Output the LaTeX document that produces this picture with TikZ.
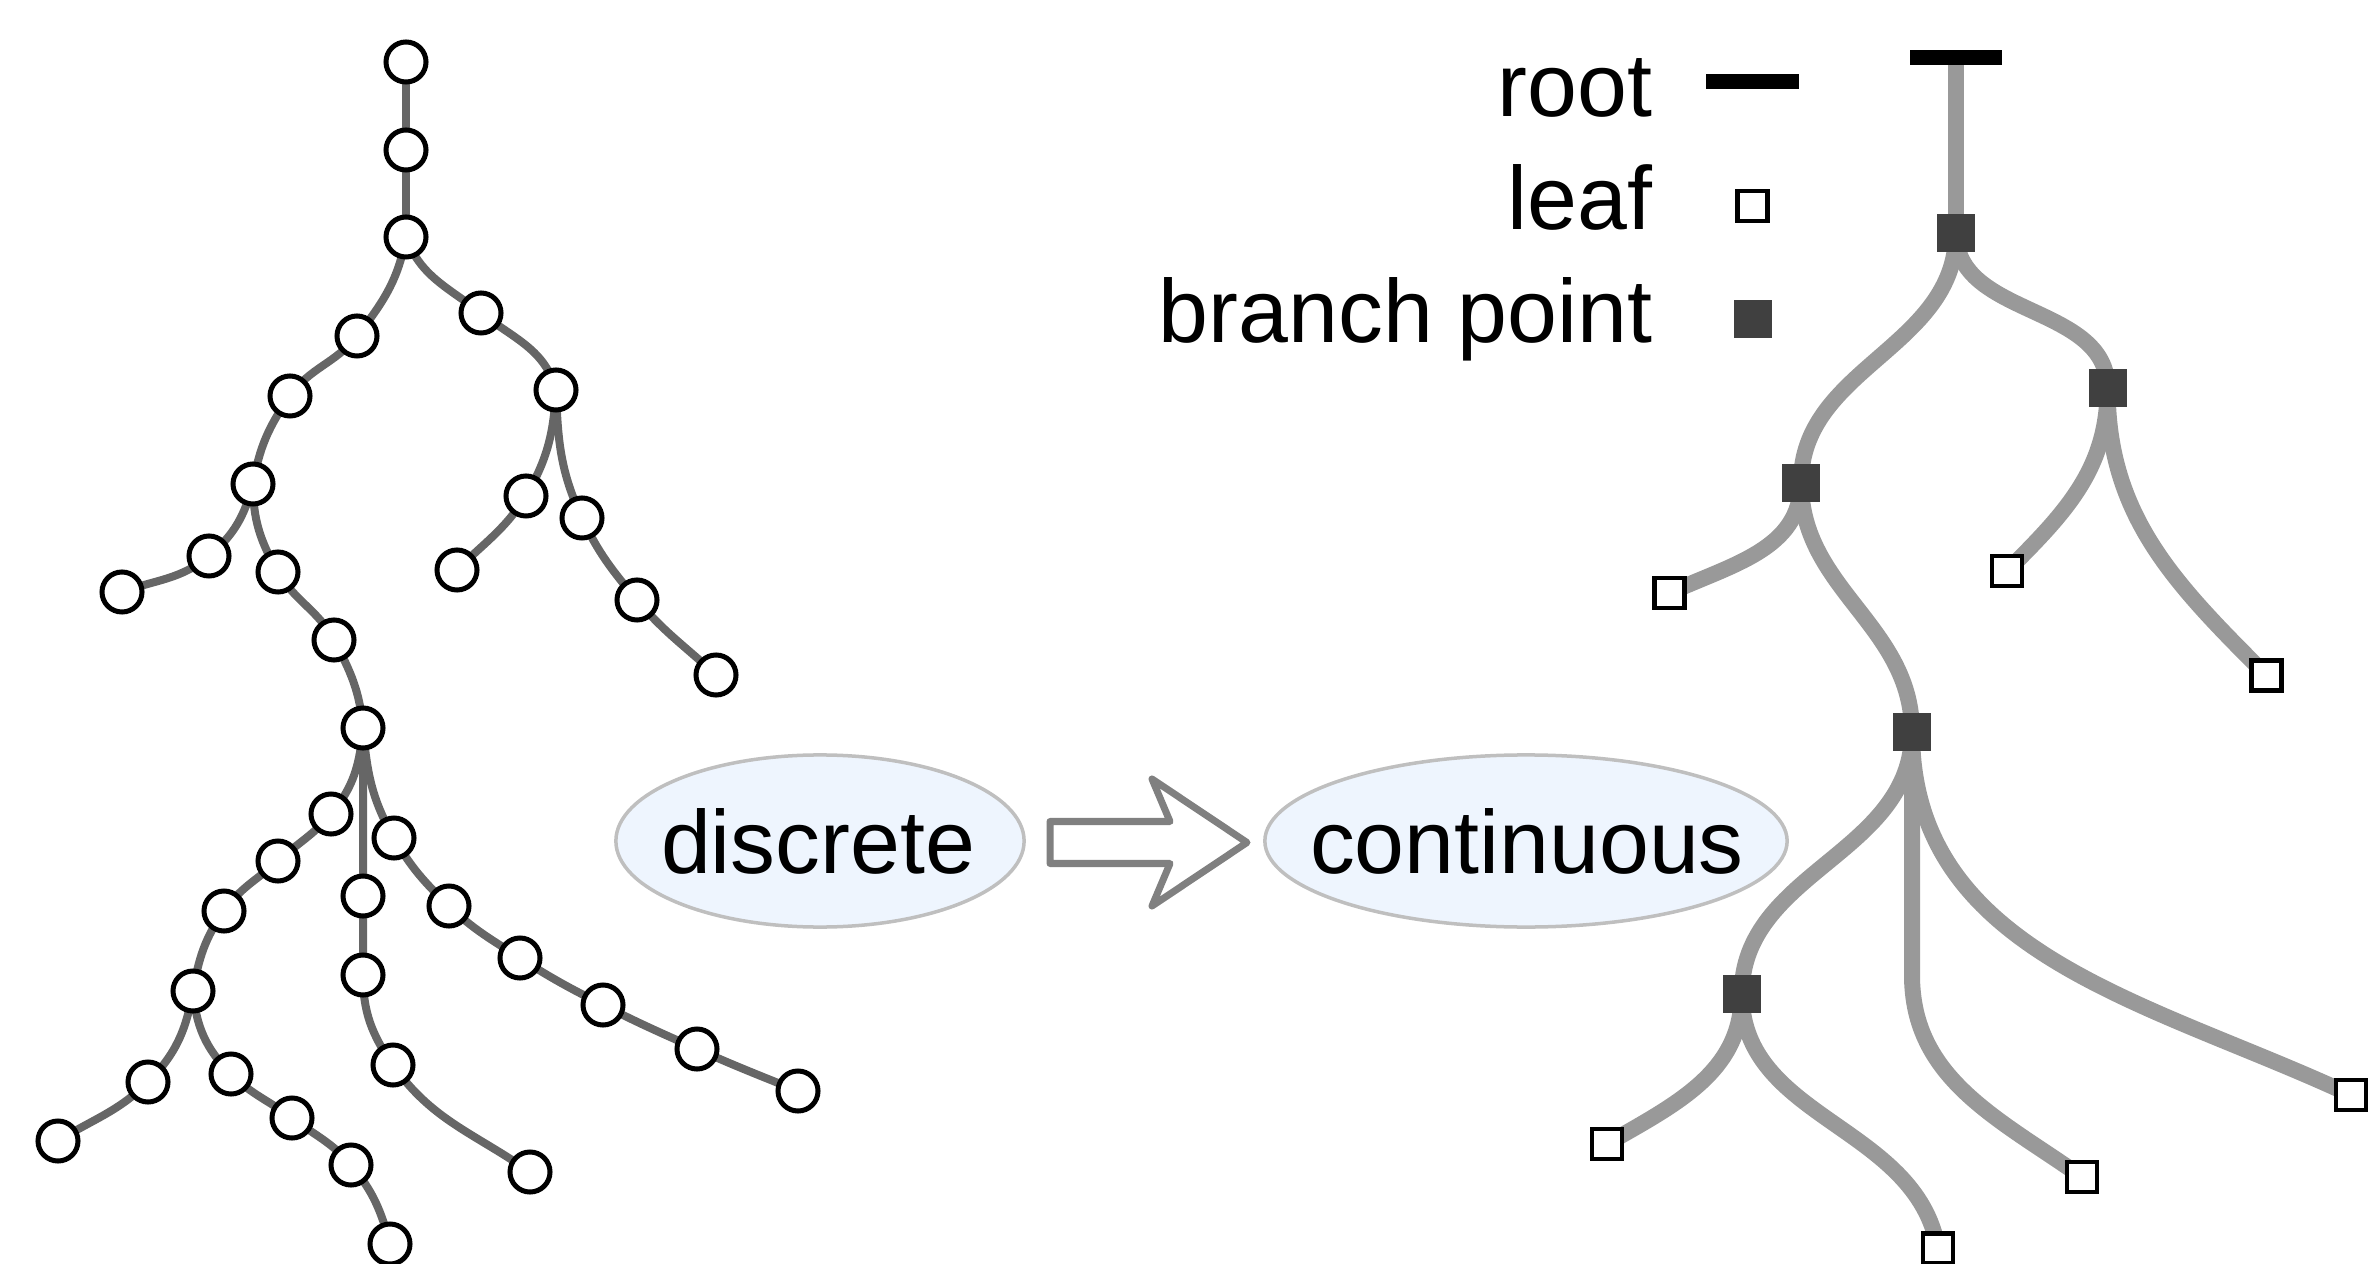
\documentclass[tikz,border=0pt]{standalone}
\usepackage{fontspec}
\setmainfont{Liberation Sans}
\usetikzlibrary{shapes.geometric}
\pgfdeclarelayer{bg}
\pgfsetlayers{bg,main}
\definecolor{ledge}{HTML}{666666}
\definecolor{redge}{HTML}{999999}
\definecolor{bpt}{HTML}{404040}
\definecolor{ellfill}{HTML}{EEF5FE}
\definecolor{ellline}{HTML}{BFBFBF}
\definecolor{arrline}{HTML}{808080}
\begin{document}
\begin{tikzpicture}[x=0.01cm,y=0.01cm,
  dot/.style={circle,draw=black,fill=white,line width=0.05cm,minimum size=0.4cm,inner sep=0pt},
  leafsq/.style={rectangle,draw=black,fill=white,line width=0.045cm,minimum size=0.3cm,inner sep=0pt},
  branchsq/.style={rectangle,fill=bpt,minimum size=0.38cm,inner sep=0pt},
  rootbar/.style={rectangle,fill=black,minimum width=0.92cm,minimum height=0.15cm,inner sep=0pt},
  ledgestyle/.style={draw=ledge,line width=0.08cm},
  redgestyle/.style={draw=redge,line width=0.16cm},
  txt/.style={font=\fontsize{25.5pt}{30pt}\selectfont,inner sep=0pt},
  bubble/.style={ellipse,draw=ellline,fill=ellfill,line width=0.035cm,inner sep=0pt,minimum height=1.72cm},
  blockarrow/.style={draw=arrline,fill=white,line width=0.07cm,line join=round}
]
\useasboundingbox (0,0) rectangle (2369,-1264);

% ---------------- left (discrete) tree ----------------
\node[dot] (n1) at (406,-62) {};
\node[dot] (n2) at (406,-150) {};
\node[dot] (n3) at (406,-237) {};
\node[dot] (n4) at (357,-336) {};
\node[dot] (n5) at (290,-396) {};
\node[dot] (n6) at (253,-484) {};
\node[dot] (n7) at (209,-556) {};
\node[dot] (n8) at (122,-592) {};
\node[dot] (n9) at (278,-572) {};
\node[dot] (n10) at (334,-640) {};
\node[dot] (n11) at (363,-728) {};
\node[dot] (n12) at (481,-313) {};
\node[dot] (n13) at (556,-390) {};
\node[dot] (n14) at (526,-496) {};
\node[dot] (n15) at (457,-570) {};
\node[dot] (n16) at (582,-518) {};
\node[dot] (n17) at (637,-600) {};
\node[dot] (n18) at (716,-675) {};
\node[dot] (n19) at (331,-814) {};
\node[dot] (n20) at (278,-861) {};
\node[dot] (n21) at (224,-911) {};
\node[dot] (n22) at (193,-991) {};
\node[dot] (n23) at (148,-1082) {};
\node[dot] (n24) at (58,-1141) {};
\node[dot] (n25) at (231,-1074) {};
\node[dot] (n26) at (292,-1118) {};
\node[dot] (n27) at (351,-1165) {};
\node[dot] (n28) at (390,-1244) {};
\node[dot] (n29) at (363,-896) {};
\node[dot] (n30) at (363,-975) {};
\node[dot] (n31) at (393,-1065) {};
\node[dot] (n32) at (530,-1172) {};
\node[dot] (n33) at (394,-838) {};
\node[dot] (n34) at (449,-906) {};
\node[dot] (n35) at (520,-958) {};
\node[dot] (n36) at (603,-1005) {};
\node[dot] (n37) at (697,-1049) {};
\node[dot] (n38) at (798,-1091) {};

\begin{pgfonlayer}{bg}
\draw[ledgestyle] (n1.center) -- (n2.center) -- (n3.center);
\draw[ledgestyle] (n3.center) to[out=-100,in=52] (n4.center) to[out=-128,in=55] (n5.center) to[out=-125,in=80] (n6.center);
\draw[ledgestyle] (n6.center) to[out=-105,in=40] (n7.center) to[out=-140,in=20] (n8.center);
\draw[ledgestyle] (n6.center) to[out=-90,in=120] (n9.center) to[out=-60,in=118] (n10.center) to[out=-62,in=95] (n11.center);
\draw[ledgestyle] (n3.center) to[out=-70,in=142] (n12.center) to[out=-38,in=105] (n13.center);
\draw[ledgestyle] (n13.center) to[out=-93,in=60] (n14.center) to[out=-122,in=45] (n15.center);
\draw[ledgestyle] (n13.center) to[out=-88,in=115] (n16.center) to[out=-65,in=130] (n17.center) to[out=-50,in=137] (n18.center);
\draw[ledgestyle] (n11.center) to[out=-95,in=50] (n19.center) to[out=-130,in=42] (n20.center) to[out=-138,in=55] (n21.center) to[out=-125,in=80] (n22.center);
\draw[ledgestyle] (n22.center) to[out=-100,in=45] (n23.center) to[out=-135,in=32] (n24.center);
\draw[ledgestyle] (n22.center) to[out=-85,in=135] (n25.center) to[out=-45,in=143] (n26.center) to[out=-37,in=130] (n27.center) to[out=-50,in=105] (n28.center);
\draw[ledgestyle] (n11.center) -- (n29.center) -- (n30.center) to[out=-90,in=125] (n31.center) to[out=-55,in=145] (n32.center);
\draw[ledgestyle] (n11.center) to[out=-85,in=120] (n33.center) to[out=-60,in=136] (n34.center) to[out=-44,in=147] (n35.center) to[out=-33,in=153] (n36.center) to[out=-27,in=156] (n37.center) to[out=-24,in=158] (n38.center);
\end{pgfonlayer}

% ---------------- middle: discrete => continuous ----------------
\node[bubble,minimum width=4.08cm] (disc) at (820,-841) {};
\node[txt,anchor=base] (disctext) at (818,-873) {discrete};
\node[bubble,minimum width=5.22cm] (cont) at (1526,-841) {};
\node[txt,anchor=base] (conttext) at (1527,-873) {continuous};
\draw[blockarrow] (1050,-821.5) -- (1170,-821.5) -- (1152,-779) -- (1247,-842.5)
  -- (1152,-906) -- (1170,-863.5) -- (1050,-863.5) -- cycle;

% ---------------- legend ----------------
\node[txt,anchor=base east] (lroot) at (1653,-117) {root};
\node[txt,anchor=base east] (lleaf) at (1653,-230) {leaf};
\node[txt,anchor=base east] (lbranch) at (1653,-343) {branch point};
\node[rootbar] (mroot) at (1752.5,-81.7) {};
\node[leafsq] (mleaf) at (1752.5,-206) {};
\node[branchsq] (mbranch) at (1753,-319) {};

% ---------------- right (continuous) tree ----------------
\node[rootbar] (rt) at (1956,-57.5) {};
\node[branchsq] (B1) at (1956,-233) {};
\node[branchsq] (B2) at (2107.6,-388.3) {};
\node[branchsq] (B3) at (1801,-482.6) {};
\node[branchsq] (B4) at (1912,-732) {};
\node[branchsq] (B5) at (1741.7,-994) {};
\node[leafsq] (L1) at (1669.6,-593) {};
\node[leafsq] (L2) at (2007,-571) {};
\node[leafsq] (L3) at (2266.6,-675.5) {};
\node[leafsq] (L4) at (1607,-1143.8) {};
\node[leafsq] (L5) at (1938,-1248.5) {};
\node[leafsq] (L6) at (2082,-1177) {};
\node[leafsq] (L7) at (2351,-1095) {};
\coordinate (L6bend) at (1912,-975);

\begin{pgfonlayer}{bg}
\draw[redgestyle] (rt.center) -- (B1.center);
\draw[redgestyle] (B1.center) to[out=-90,in=90] (B3.center);
\draw[redgestyle] (B1.center) to[out=-90,in=90] (B2.center);
\draw[redgestyle] (B3.center) to[out=-90,in=25] (L1.center);
\draw[redgestyle] (B3.center) to[out=-90,in=90] (B4.center);
\draw[redgestyle] (B2.center) to[out=-90,in=45] (L2.center);
\draw[redgestyle] (B2.center) to[out=-90,in=135] (L3.center);
\draw[redgestyle] (B4.center) to[out=-90,in=90] (B5.center);
\draw[redgestyle] (B4.center) -- (L6bend) to[out=-90,in=145] (L6.center);
\draw[redgestyle] (B4.center) to[out=-90,in=155] (L7.center);
\draw[redgestyle] (B5.center) to[out=-90,in=30] (L4.center);
\draw[redgestyle] (B5.center) to[out=-90,in=100] (L5.center);
\end{pgfonlayer}
\end{tikzpicture}
\end{document}
